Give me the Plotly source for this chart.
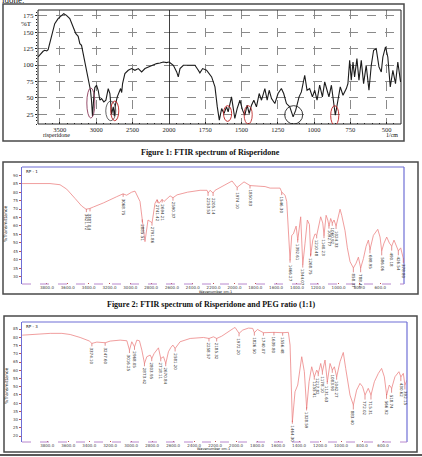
import numpy as np
import plotly.graph_objects as go

# ---------------- data ----------------
# Figure 1: FTIR spectrum of Risperidone (wavenumber 1/cm, %T)
ris_wn = [3799, 3753, 3730, 3707, 3680, 3661, 3639, 3602, 3570, 3524, 3478, 3446, 3409, 3363, 3317,
          3280, 3248, 3225, 3202, 3179, 3156, 3124, 3097, 3079, 3065, 3051, 3033, 3019, 2996, 2973,
          2950, 2927, 2895, 2867, 2835, 2812, 2789, 2766, 2750, 2735, 2711, 2684, 2665, 2650, 2638,
          2606, 2560, 2514, 2468, 2422, 2376, 2330, 2284, 2216, 2170, 2124, 2078, 2032, 2000,
          1970, 1947, 1936, 1924, 1901, 1855, 1821, 1798, 1787, 1768, 1741, 1706, 1683, 1667, 1653,
          1637, 1621, 1603, 1592, 1569, 1557, 1546, 1530, 1511, 1493, 1477, 1461, 1447, 1431, 1415,
          1397, 1378, 1362, 1339, 1323, 1309, 1293, 1270, 1248, 1225, 1209, 1190, 1167, 1144, 1126,
          1103, 1087, 1064, 1048, 1030, 1011, 995, 979, 961, 942, 926, 910, 897, 880, 864, 853, 835,
          819, 800, 777, 766, 754, 743, 731, 720, 704, 690, 674, 658, 640, 621, 605, 589, 571, 552,
          536, 525, 507, 491, 474, 456, 438, 422, 403]
ris_t = [112.3, 118.4, 121.0, 122.5, 121.5, 123.5, 132.7, 147.9, 163.1, 170.8, 175.8, 178.4, 175.8, 170.8, 158.1,
         147.9, 143.8, 132.7, 130.1, 117.4, 104.7, 86.9, 74.2, 61.5, 46.3, 22.0, 51.4, 65.6, 69.2, 61.5,
         46.3, 48.8, 43.8, 46.3, 64.1, 56.5, 25.0, 36.1, 22.0, 40.0, 51.4, 59.0, 64.1, 58.0, 71.7,
         86.9, 92.0, 94.6, 92.0, 94.6, 89.5, 94.6, 97.1, 99.6, 102.2, 103.2, 104.7, 103.7, 104.7,
         99.6, 89.5, 81.9, 94.6, 99.6, 99.6, 99.6, 92.0, 88.0, 94.6, 92.0, 81.9, 66.6, 36.1, 15.8,
         33.6, 26.0, 36.1, 28.5, 51.4, 36.1, 18.4, 33.6, 46.3, 31.1, 23.4, 38.7, 26.0, 38.7, 46.3,
         36.1, 56.5, 46.3, 64.1, 46.3, 61.5, 48.8, 41.2, 56.5, 64.1, 56.5, 41.2, 36.1, 20.9, 31.1,
         51.4, 59.0, 84.4, 61.5, 64.1, 51.4, 61.5, 46.3, 69.2, 51.4, 74.2, 61.5, 51.4, 69.2, 46.3, 23.4, 46.3,
         66.6, 53.9, 64.1, 71.7, 107.3, 76.8, 104.7, 81.9, 109.8, 76.8, 107.3, 71.7, 99.6, 61.5, 99.6, 122.5, 125.0, 97.1,
         89.5, 112.3, 127.6, 112.3, 66.6, 92.0, 71.7, 104.7, 74.2]
circled_wn = [3074, 2800, 2745, 1596, 1454, 1140, 857]
circled_t = [42, 30, 30, 26, 24, 24, 23]

p1_yticks = [25, 50, 75, 100, 125, 150, 175]
p1_xticks_hi = [3500, 3000, 2500]
p1_xticks_lo = [2000, 1750, 1500, 1250, 1000, 750, 500]

# Figure 2: Risperidone and PEG (1:1)
peg_wn = [4040, 3900, 3771, 3675, 3611, 3531, 3467, 3425, 3390, 3355, 3259, 3131, 3070, 3035, 2987, 2955,
          2907, 2859, 2830, 2791, 2763, 2743, 2724, 2695, 2676, 2618, 2590, 2551, 2450, 2330, 2263, 2253,
          2234, 2205, 2186, 2100, 2023, 1975, 1908, 1850, 1802, 1706, 1658, 1562, 1546, 1514, 1498, 1482,
          1466, 1450, 1434, 1408, 1392, 1364, 1344, 1322, 1300, 1280, 1268, 1248, 1226, 1210, 1188, 1172,
          1152, 1140, 1120, 1104, 1092, 1076, 1060, 1044, 1024, 1008, 986, 970, 954, 938, 916, 890, 858,
          832, 810, 788, 762, 736, 714, 698, 666, 640, 624, 602, 586, 564, 538, 512, 490, 468, 448, 426,
          404, 378]
peg_t = [85.1, 85.1, 85.1, 84.4, 81.8, 76.3, 71.8, 69.9, 70.3, 71.2, 73.6, 77.3, 79.0, 78.2, 80.0, 80.6,
         74.5, 50.7, 63.5, 61.9, 73.4, 75.6, 73.4, 75.7, 74.5, 77.8, 76.7, 78.4, 80.0, 81.1, 81.1, 79.5,
         81.1, 79.5, 81.1, 84.0, 86.6, 82.8, 86.1, 83.9, 83.7, 83.3, 82.4, 82.4, 80.0, 78.2, 74.5, 57.1,
         39.7, 54.4, 55.3, 59.9, 51.6, 65.4, 37.0, 49.8, 63.5, 60.8, 42.5, 51.6, 55.3, 54.4, 59.9, 65.4,
         61.7, 54.4, 66.3, 63.5, 59.9, 64.4, 61.7, 63.5, 59.9, 64.4, 69.9, 66.3, 61.7, 57.1, 47.0, 38.8, 35.1,
         37.9, 41.5, 35.1, 40.6, 47.9, 51.6, 46.1, 54.4, 57.1, 58.0, 53.4, 45.2, 49.8, 53.4, 49.8, 48.0, 51.6, 48.9, 45.2,
         47.0, 40.6]
peg_peaks = [3421.72, 3387.04, 3068.75, 2885.51, 2791.86, 2741.42, 2694.21, 2590.37, 2253.53, 2205.14,
             1974.10, 1850.83, 1546.30, 1466.27, 1392.61, 1344.07, 1268.75, 1210.48, 1140.23, 1092.77,
             1060.92, 1024.33, 858.37, 788.42, 698.95, 586.06, 490.18, 426.54, 378.80]

# Figure 3 spectrum
mix_wn = [4038, 3900, 3771, 3660, 3581, 3486, 3400, 3374, 3327, 3247, 3200, 3105, 3041, 3016, 2994, 2968,
          2946, 2921, 2898, 2873, 2851, 2819, 2803, 2781, 2740, 2718, 2692, 2670, 2645, 2622, 2603, 2581,
          2534, 2438, 2311, 2258, 2216, 2185, 2137, 2026, 2010, 1972, 1937, 1883, 1842, 1826, 1797, 1740,
          1709, 1639, 1556, 1502, 1486, 1464, 1439, 1413, 1375, 1350, 1328, 1305, 1280, 1255, 1232, 1217,
          1194, 1178, 1153, 1131, 1105, 1083, 1064, 1042, 1010, 979, 956, 937, 915, 883, 852, 820, 795,
          772, 741, 715, 683, 645, 614, 588, 566, 541, 518, 487, 449, 430, 407, 392, 372]
mix_t = [81.3, 82.0, 82.4, 82.4, 81.7, 79.9, 77.8, 76.3, 77.1, 76.7, 77.7, 78.3, 77.9, 72.2, 77.3, 74.2,
         78.3, 77.9, 72.2, 64.1, 68.2, 69.2, 67.2, 70.2, 73.6, 67.2, 68.2, 64.1, 71.2, 73.8, 75.3, 73.2,
         77.3, 79.3, 79.9, 79.3, 80.3, 79.3, 80.7, 85.4, 86.0, 82.4, 84.4, 85.6, 85.4, 82.8, 84.8, 82.8,
         83.0, 83.0, 82.8, 83.0, 75.3, 28.7, 46.9, 51.0, 68.2, 59.1, 36.8, 53.0, 62.1, 56.0, 60.1, 58.1,
         64.1, 59.1, 66.2, 53.0, 64.1, 60.1, 62.1, 56.0, 65.2, 70.8, 61.1, 53.0, 44.9, 38.8, 47.9, 52.0, 50.0,
         44.9, 49.0, 44.9, 53.0, 58.1, 61.1, 56.0, 44.9, 51.0, 49.0, 56.0, 59.1, 56.0, 58.1, 51.0, 54.0]
mix_peaks = [3374.10, 3247.60, 3016.25, 2968.05, 2873.42, 2803.95, 2718.11, 2670.84, 2581.20, 2258.57,
             2185.32, 1972.20, 1826.50, 1740.07, 1639.80, 1556.48, 1464.30, 1328.59, 1255.41, 1217.82,
             1178.10, 1131.63, 1083.90, 1042.27, 883.40, 772.02, 715.31, 566.92, 518.74, 430.62, 392.15]

ir_xticks = [3800, 3600, 3400, 3200, 3000, 2800, 2600, 2400, 2200, 2000, 1800, 1600, 1400, 1200, 1000, 800, 600]
peg_yticks = [30, 35, 40, 45, 50, 55, 60, 65, 70, 75, 80, 85, 90]
mix_yticks = [20, 25, 30, 35, 40, 45, 50, 55, 60, 65, 70, 75, 80, 85]

# ---------------- layout helpers ----------------
W, H = 422, 457
def fx(p):
    return p / W
def fy(p):
    return 1 - p / H

SERIF = "Liberation Serif"
PURPLE = "#6f6fd6"
PINK = "#ec8585"

fig = go.Figure()

hi = [(w, t) for w, t in zip(ris_wn, ris_t) if w >= 2000]
lo = [(w, t) for w, t in zip(ris_wn, ris_t) if w <= 2000]
for pts, xa in ((hi, "x"), (lo, "x2")):
    fig.add_trace(go.Scatter(x=[p[0] for p in pts], y=[p[1] for p in pts], xaxis=xa, yaxis="y",
                             mode="lines", line=dict(color="#1c1c1c", width=1.1),
                             hoverinfo="skip", showlegend=False))
fig.add_trace(go.Scatter(x=peg_wn, y=peg_t, xaxis="x3", yaxis="y3", mode="lines",
                         line=dict(color=PINK, width=0.8), hoverinfo="skip", showlegend=False))
fig.add_trace(go.Scatter(x=mix_wn, y=mix_t, xaxis="x4", yaxis="y4", mode="lines",
                         line=dict(color=PINK, width=0.8), hoverinfo="skip", showlegend=False))

grid = dict(showgrid=True, gridcolor="#8a8a8a", griddash="dash", gridwidth=0.7)
p1font = dict(family=SERIF, size=7, color="#222")
x1font = dict(family=SERIF, size=6.5, color="#222")
ax_common = dict(zeroline=False, showline=False, automargin=False, tickcolor="#222")

small = dict(family="DejaVu Sans", size=4, color="#444")
ir_x = dict(range=[4040, 372], tickvals=ir_xticks, ticktext=[f"{v}.0" for v in ir_xticks],
            tickfont=small, ticks="inside", ticklen=1.5, tickcolor="#c05050", showgrid=False,
            zeroline=False, showline=False, automargin=False)
ir_y = dict(showgrid=False, zeroline=False, showline=True, linecolor=PURPLE, linewidth=1.2,
            ticks="outside", ticklen=2, tickcolor="#c05050", tickfont=small, automargin=False)

fig.update_layout(
    width=W, height=H, margin=dict(l=0, r=0, t=0, b=0), template="none",
    paper_bgcolor="white", plot_bgcolor="white", showlegend=False,
    xaxis=dict(domain=[fx(38), fx(169)], range=[3800, 2000], anchor="y",
               tickvals=p1_xticks_hi, ticktext=[str(v) for v in p1_xticks_hi],
               ticks="inside", ticklen=2, tickfont=x1font,
               minor=dict(ticks="inside", ticklen=1.5, dtick=100, tick0=0, tickcolor="#222"),
               **grid, **ax_common),
    xaxis2=dict(domain=[fx(169), fx(401)], range=[2000, 400], anchor="y",
                tickvals=p1_xticks_lo, ticktext=[str(v) for v in p1_xticks_lo],
                ticks="inside", ticklen=2, tickfont=x1font,
                minor=dict(ticks="inside", ticklen=1.5, dtick=50, tick0=0, tickcolor="#222"),
                **grid, **ax_common),
    yaxis=dict(domain=[fy(124), fy(10)], range=[10, 184], anchor="x",
               tickvals=p1_yticks, ticktext=[str(v) for v in p1_yticks],
               ticks="outside", ticklen=2, tickfont=p1font,
               minor=dict(ticks="outside", ticklen=1.5, dtick=5, tick0=0, tickcolor="#222"),
               **grid, **ax_common),
    xaxis3=dict(domain=[fx(22), fx(404)], anchor="y3", **ir_x),
    yaxis3=dict(domain=[fy(284), fy(167)], range=[25.6, 94.9], anchor="x3",
                tickvals=peg_yticks, ticktext=[str(v) for v in peg_yticks], **ir_y),
    xaxis4=dict(domain=[fx(22), fx(407)], anchor="y4", **ir_x),
    yaxis4=dict(domain=[fy(442), fy(322)], range=[16.4, 89.3], anchor="x4",
                tickvals=mix_yticks, ticktext=[str(v) for v in mix_yticks], **ir_y),
)

shapes = []
def rect(x0, y0, x1, y1, color, width):
    shapes.append(dict(type="rect", xref="paper", yref="paper", x0=fx(x0), x1=fx(x1),
                       y0=fy(y1), y1=fy(y0), line=dict(color=color, width=width),
                       fillcolor="rgba(0,0,0,0)", layer="above"))
def hline(x0, x1, y, color, width, dash="solid"):
    shapes.append(dict(type="line", xref="paper", yref="paper", x0=fx(x0), x1=fx(x1),
                       y0=fy(y), y1=fy(y), line=dict(color=color, width=width, dash=dash)))
def vline(x, y0, y1, color, width):
    shapes.append(dict(type="line", xref="paper", yref="paper", x0=fx(x), x1=fx(x),
                       y0=fy(y0), y1=fy(y1), line=dict(color=color, width=width)))

# panel outer boxes
rect(3, 4, 404, 141, "#4a4a4a", 1.5)
rect(3, 162, 418, 294, "#4a4a4a", 1.5)
rect(4, 316, 417, 452, "#4a4a4a", 1.5)
hline(0, 422, 455, "#222", 1.6)
# panel 1 plot frame
rect(38, 10, 401, 124, "#222", 1)
shapes.append(dict(type="line", xref="x2", yref="y domain", x0=2000, x1=2000, y0=0, y1=1,
                   line=dict(color="#111", width=1.6)))
# panels 2/3 frames
for (l, t, r, b) in ((22, 167, 404, 284), (22, 322, 407, 442)):
    hline(l, r, t, PURPLE, 1.2)
    vline(r, t, b, PURPLE, 1.2)
    hline(l, r, b, "#b07ac8", 0.9, dash="dash")

# circled peaks on figure 1
ell_hw = [55, 69, 55, 28, 28, 62, 28]
ell_hh = [23, 15, 15, 12, 14, 14, 15]
ell_col = ["#8b3a5a", "#555555", "#c02020", "#c02020", "#c03030", "#222222", "#c02020"]
for w, t, hw, hh, c in zip(circled_wn, circled_t, ell_hw, ell_hh, ell_col):
    shapes.append(dict(type="circle", xref="x" if w > 2000 else "x2", yref="y",
                       x0=w - hw, x1=w + hw, y0=t - hh, y1=t + hh,
                       line=dict(color=c, width=0.9)))

annotations = []
def note(text, x, y, size, bold=False, family=SERIF, angle=0, color="#111", xanchor="center"):
    annotations.append(dict(text=f"<b>{text}</b>" if bold else text, x=fx(x), y=fy(y),
                            xref="paper", yref="paper", showarrow=False, textangle=angle,
                            font=dict(family=family, size=size, color=color), xanchor=xanchor,
                            yanchor="middle"))

note("idone:", 0, 0, 9, xanchor="left")
note("%T", 27, 24, 7)
note("risperidone", 56, 135.5, 6)
note("1/cm", 392, 135.5, 6)
note("Figure 1: FTIR spectrum of Risperidone", 210, 152.5, 8, bold=True)
note("Figure 2: FTIR spectrum of Risperidone and PEG ratio (1:1)", 211, 304, 8, bold=True)
note("RP - 1", 32, 171, 4, family="DejaVu Sans")
note("RP - 3", 32, 326, 4, family="DejaVu Sans")
note("%Transmittance", 6, 224, 4.5, family="DejaVu Sans", angle=-90)
note("%Transmittance", 6, 386, 4.5, family="DejaVu Sans", angle=-90)
note("Wavenumber cm-1", 215, 291.5, 3.5, family="DejaVu Sans")
note("Wavenumber cm-1", 213, 449, 3.5, family="DejaVu Sans")

for peaks, wn, tt, xa, ya in ((peg_peaks, peg_wn, peg_t, "x3", "y3"),
                              (mix_peaks, mix_wn, mix_t, "x4", "y4")):
    wn_r = np.array(wn[::-1], dtype=float)
    t_r = np.array(tt[::-1], dtype=float)
    for p in peaks:
        yv = float(np.interp(p, wn_r, t_r))
        annotations.append(dict(text=f"{p:.2f}", x=p, y=yv, xref=xa, yref=ya, showarrow=True,
                                ax=0, ay=13, arrowhead=0, arrowwidth=0.6, arrowcolor="#d04848",
                                textangle=90, font=dict(family="DejaVu Sans", size=4, color="#333")))

fig.update_layout(shapes=shapes, annotations=annotations)
fig.write_html("out.html")
